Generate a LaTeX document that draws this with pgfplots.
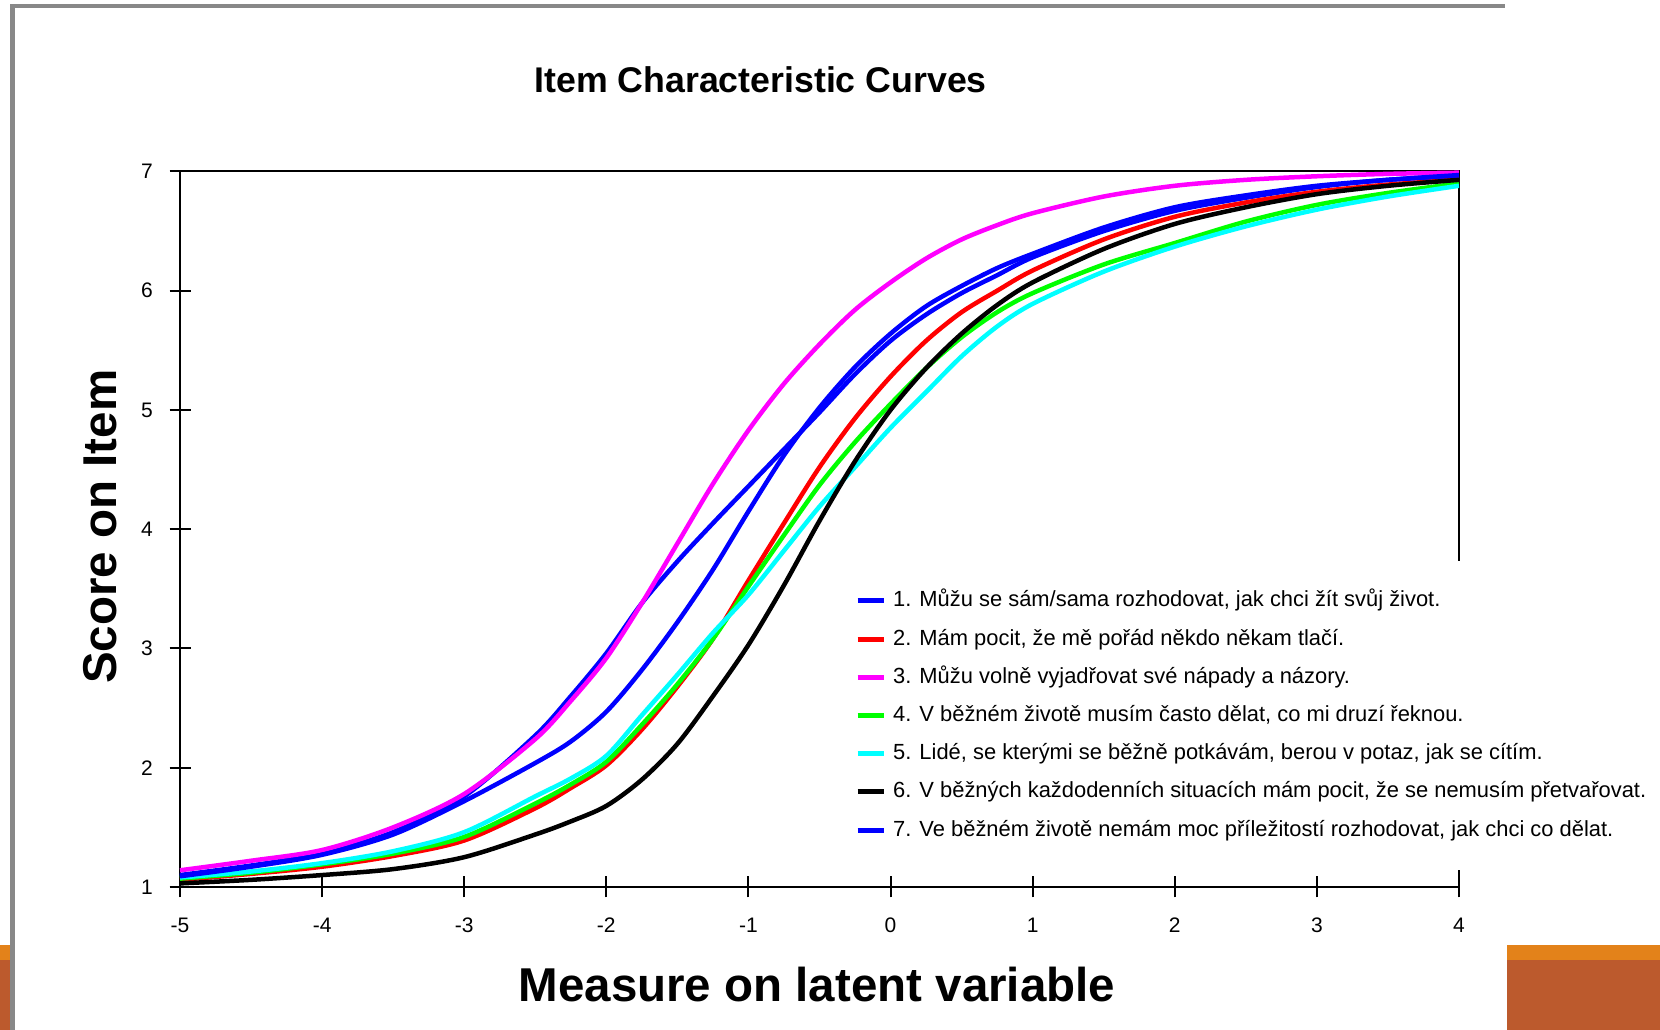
\documentclass[border=0pt]{standalone}
\usepackage{fontspec}
\setmainfont{Liberation Sans}
\usepackage{pgfplots}
\usepackage{pgfplotstable}
\pgfplotsset{compat=1.18}
\definecolor{slideorange}{RGB}{227,130,26}
\definecolor{sliderust}{RGB}{188,90,45}
\definecolor{framegray}{RGB}{136,136,136}
\definecolor{cBlue}{RGB}{0,0,255}
\definecolor{cRed}{RGB}{255,0,0}
\definecolor{cMag}{RGB}{255,0,255}
\definecolor{cGreen}{RGB}{0,255,0}
\definecolor{cCyan}{RGB}{0,255,255}

\pgfplotstableread{
x     i1   i2   i3   i4   i5   i6   i7
-5    1.10 1.06 1.14 1.07 1.08 1.03 1.09
-4.5  1.18 1.11 1.22 1.12 1.13 1.06 1.17
-4    1.28 1.17 1.31 1.19 1.20 1.10 1.27
-3.5  1.46 1.26 1.50 1.28 1.30 1.15 1.44
-3    1.76 1.39 1.78 1.42 1.46 1.25 1.72
-2.5  2.27 1.66 2.24 1.70 1.76 1.44 2.04
-2.25 2.60 1.83 2.56 1.86 1.91 1.55 2.22
-2    2.96 2.02 2.92 2.05 2.10 1.68 2.47
-1.75 3.38 2.32 3.38 2.36 2.44 1.90 2.82
-1.5  3.73 2.68 3.88 2.70 2.78 2.20 3.22
-1.25 4.05 3.08 4.38 3.08 3.13 2.60 3.66
-1    4.36 3.57 4.83 3.52 3.45 3.03 4.15
-0.75 4.67 4.05 5.22 3.95 3.82 3.53 4.62
-0.5  4.98 4.52 5.55 4.37 4.19 4.07 5.02
-0.25 5.30 4.93 5.84 4.73 4.52 4.57 5.36
0     5.58 5.28 6.07 5.05 4.85 5.00 5.64
0.25  5.80 5.58 6.27 5.35 5.15 5.35 5.87
0.5   5.98 5.82 6.43 5.61 5.45 5.64 6.04
0.75  6.13 6.00 6.55 5.82 5.70 5.88 6.19
1     6.28 6.17 6.65 5.98 5.89 6.07 6.31
1.5   6.50 6.43 6.79 6.22 6.16 6.35 6.53
2     6.67 6.62 6.88 6.40 6.37 6.56 6.70
2.5   6.78 6.74 6.93 6.58 6.54 6.70 6.80
3     6.87 6.83 6.96 6.72 6.68 6.81 6.88
3.5   6.93 6.89 6.98 6.82 6.79 6.88 6.93
4     6.96 6.93 6.99 6.90 6.88 6.93 6.97
}\icctable

\begin{document}
\begin{tikzpicture}
\useasboundingbox (0pt,0pt) rectangle (1660pt,1030pt);
\fill[white] (0pt,0pt) rectangle (1660pt,1030pt);
% slide decorations
\fill[sliderust] (0pt,0pt) rectangle (10pt,70pt);
\fill[slideorange] (0pt,70pt) rectangle (10pt,85pt);
\fill[sliderust] (1507pt,0pt) rectangle (1660pt,70pt);
\fill[slideorange] (1507pt,70pt) rectangle (1660pt,85pt);
\draw[framegray, line width=5pt] (12.5pt,0pt) -- (12.5pt,1025.5pt);
\draw[framegray, line width=4pt] (10pt,1023.5pt) -- (1505pt,1023.5pt);

\begin{axis}[
  at={(180pt,143pt)}, anchor=south west,
  width=1279pt, height=715.5pt, scale only axis,
  xmin=-5, xmax=4, ymin=1, ymax=7,
  xtick={-5,-4,-3,-2,-1,0,1,2,3,4},
  xticklabels={-5,-4,-3,-2,-1,0,1,2,3,4},
  ytick={1,2,3,4,5,6,7},
  yticklabels={1,2,3,4,5,6,7},
  tick pos=left,
  tick align=center,
  major tick length=21pt,
  every tick/.style={black, line width=2pt},
  axis line style={black, line width=2pt},
  tick label style={font=\fontsize{21}{25}\selectfont, inner sep=0pt},
  xticklabel style={anchor=north, yshift=-20pt},
  yticklabel style={anchor=east, xshift=-16.5pt},
  title={Item Characteristic Curves},
  title style={at={(axis description cs:0.454,1.1020)}, anchor=base, font=\bfseries\fontsize{35.7}{40}\selectfont},
  xlabel={Measure on latent variable},
  xlabel style={at={(axis description cs:0.498,-0.160)}, anchor=base, font=\bfseries\fontsize{47.5}{52}\selectfont},
  ylabel={Score on Item},
  ylabel style={at={(axis description cs:-0.0495,0.5036)}, anchor=base, font=\bfseries\fontsize{47.5}{52}\selectfont},
  clip=false,
  legend image code/.code={\draw[line width=5pt] (0pt,0pt) -- (26pt,0pt);},
  legend cell align=left,
  legend style={at={(axis description cs:0.5199,0.4560)}, anchor=north west,
    draw=none, fill=white, inner xsep=10pt, inner ysep=29pt,
    font=\fontsize{21.9}{26}\selectfont,
    row sep=16.2pt, column sep=7pt,
    nodes={inner sep=0pt, text height=17pt, text depth=5pt}},
  every axis plot/.append style={line width=4.5pt, smooth, tension=0.5},
]
\addplot[cBlue]  table[x=x, y=i1] {\icctable};
\addlegendentry{1. Můžu se sám/sama rozhodovat, jak chci žít svůj život.}
\addplot[cRed]   table[x=x, y=i2] {\icctable};
\addlegendentry{2. Mám pocit, že mě pořád někdo někam tlačí.}
\addplot[cMag]   table[x=x, y=i3] {\icctable};
\addlegendentry{3. Můžu volně vyjadřovat své nápady a názory.}
\addplot[cGreen] table[x=x, y=i4] {\icctable};
\addlegendentry{4. V běžném životě musím často dělat, co mi druzí řeknou.}
\addplot[cCyan]  table[x=x, y=i5] {\icctable};
\addlegendentry{5. Lidé, se kterými se běžně potkávám, berou v potaz, jak se cítím.}
\addplot[black]  table[x=x, y=i6] {\icctable};
\addlegendentry{6. V běžných každodenních situacích mám pocit, že se nemusím přetvařovat.}
\addplot[cBlue]  table[x=x, y=i7] {\icctable};
\addlegendentry{7. Ve běžném životě nemám moc příležitostí rozhodovat, jak chci co dělat.}
\end{axis}
\end{tikzpicture}
\end{document}
